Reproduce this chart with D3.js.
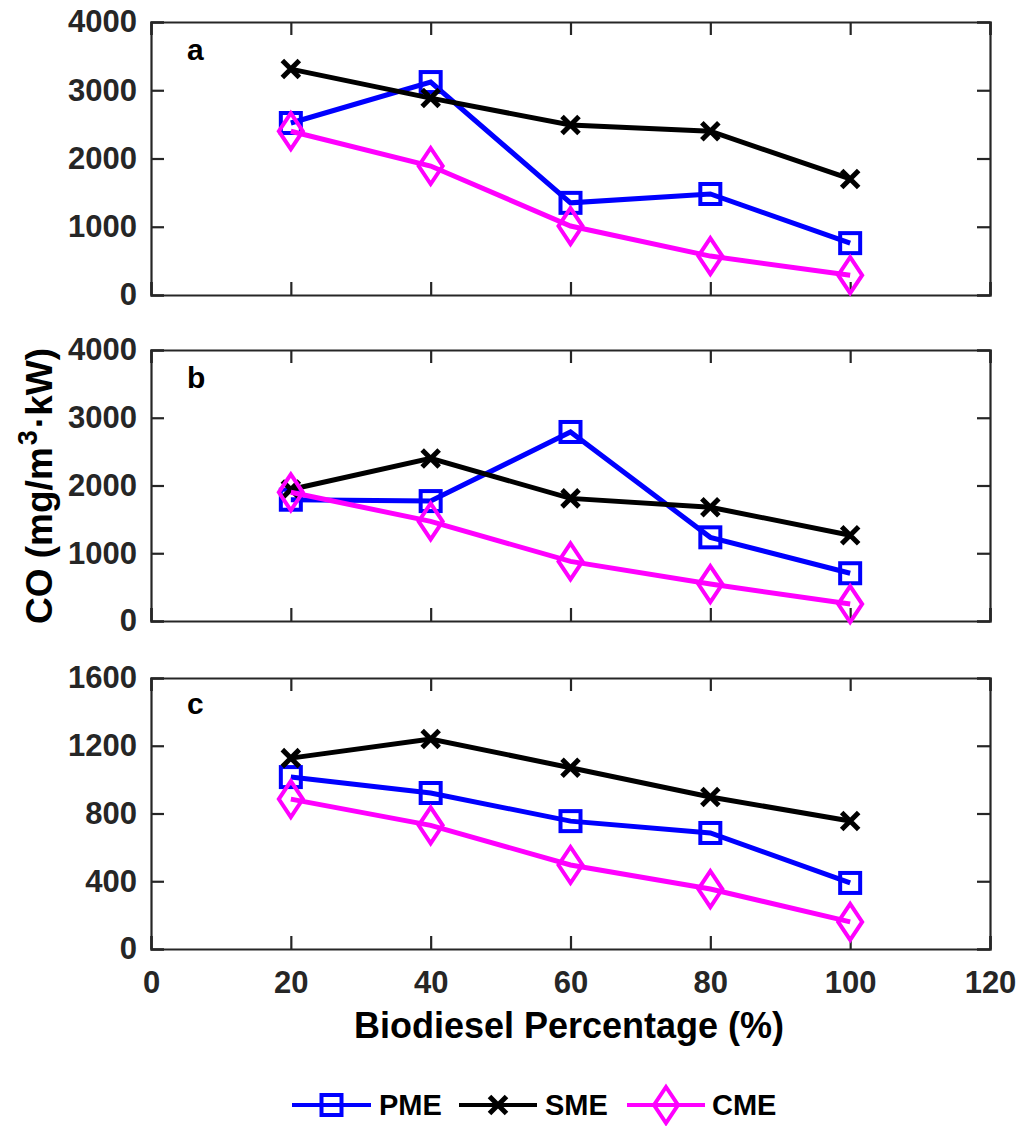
<!DOCTYPE html>
<html>
<head>
<meta charset="utf-8">
<script src="https://cdn.jsdelivr.net/npm/d3@7"></script>
<style>
  html, body { margin: 0; padding: 0; background: #fff; }
  svg text { font-family: "Liberation Sans", Arial, Helvetica, sans-serif; font-weight: bold; }
</style>
</head>
<body>
<svg id="chart" width="1022" height="1126"></svg>
<script>
// ---------- data ----------
const percentages = [20, 40, 60, 80, 100];
const xTickValues = [0, 20, 40, 60, 80, 100, 120];
const seriesNames = ["PME", "SME", "CME"];
const panelLabels = ["a", "b", "c"];

const pmeA = [2520, 3120, 1350, 1480, 760];
const smeA = [3310, 2885, 2490, 2400, 1700];
const cmeA = [2400, 1890, 1010, 570, 290];

const pmeB = [1790, 1770, 2790, 1235, 705];
const smeB = [1940, 2400, 1810, 1680, 1265];
const cmeB = [1900, 1470, 880, 545, 250];

const pmeC = [1015, 921, 755, 685, 390];
const smeC = [1127, 1240, 1070, 897, 756];
const cmeC = [885, 730, 496, 354, 160];

const yTicksAB = [0, 1000, 2000, 3000, 4000];
const yTicksC = [0, 400, 800, 1200, 1600];

const xLabel = "Biodiesel Percentage (%)";

// ---------- styles ----------
const colors = { PME: "#0000FF", SME: "#000000", CME: "#FF00FF" };
const axisColor = "#262626";

const panels = [
  { label: panelLabels[0], top: 22, bottom: 295, ticks: yTicksAB, data: [pmeA, smeA, cmeA], showX: false },
  { label: panelLabels[1], top: 350, bottom: 621, ticks: yTicksAB, data: [pmeB, smeB, cmeB], showX: false },
  { label: panelLabels[2], top: 678, bottom: 949, ticks: yTicksC, data: [pmeC, smeC, cmeC], showX: true }
];

const left = 151, right = 990;
const svg = d3.select("#chart");

const x = d3.scaleLinear().domain([0, 120]).range([left, right]);

function drawMarker(g, name, cx, cy, legend) {
  const c = colors[name];
  if (name === "PME") {
    const s = 20;
    g.append("rect").attr("x", cx - s / 2).attr("y", cy - s / 2).attr("width", s).attr("height", s)
      .attr("fill", "none").attr("stroke", c).attr("stroke-width", 4);
  } else if (name === "SME") {
    const h = 8.5;
    g.append("path").attr("d", `M${cx - h},${cy - h}L${cx + h},${cy + h}M${cx - h},${cy + h}L${cx + h},${cy - h}`)
      .attr("stroke", c).attr("stroke-width", 5).attr("fill", "none");
  } else {
    const w = 12, hh = 18;
    g.append("path").attr("d", `M${cx},${cy - hh}L${cx + w},${cy}L${cx},${cy + hh}L${cx - w},${cy}Z`)
      .attr("fill", "none").attr("stroke", c).attr("stroke-width", 4);
  }
}

panels.forEach(p => {
  const y = d3.scaleLinear().domain([p.ticks[0], p.ticks[p.ticks.length - 1]]).range([p.bottom, p.top]);
  const g = svg.append("g");
  const tickLen = 13;

  const axL = d3.axisLeft(y).tickValues(p.ticks).tickSize(-tickLen).tickPadding(14).tickFormat(d3.format("d"));
  const axR = d3.axisRight(y).tickValues(p.ticks).tickSize(-tickLen).tickFormat("");
  const axT = d3.axisTop(x).tickValues(xTickValues).tickSize(-tickLen).tickFormat("");
  const axB = d3.axisBottom(x).tickValues(xTickValues).tickSize(-tickLen).tickPadding(22).tickFormat(p.showX ? d3.format("d") : "");

  [
    [axL, `translate(${left},0)`],
    [axR, `translate(${right},0)`],
    [axT, `translate(0,${p.top})`],
    [axB, `translate(0,${p.bottom})`]
  ].forEach(([ax, tr]) => {
    const a = g.append("g").attr("transform", tr).call(ax);
    a.select(".domain").attr("stroke", axisColor).attr("stroke-width", 2.2).attr("fill", "none");
    a.selectAll(".tick line").attr("stroke", axisColor).attr("stroke-width", 2.2);
    a.selectAll(".tick text").attr("fill", axisColor).attr("font-size", 31).attr("font-weight", "bold")
      .attr("font-family", '"Liberation Sans", Arial, sans-serif');
  });

  // panel label
  g.append("text").attr("x", 187).attr("y", p.top + (p.label === "c" ? 36 : 38)).text(p.label)
    .attr("font-size", 30).attr("fill", "#000");

  // series
  const line = d3.line().x((d, i) => x(percentages[i])).y(d => y(d));
  p.data.forEach((vals, si) => {
    const name = seriesNames[si];
    g.append("path").datum(vals).attr("d", line).attr("fill", "none")
      .attr("stroke", colors[name]).attr("stroke-width", 5).attr("stroke-linejoin", "miter");
    vals.forEach((v, i) => drawMarker(g, name, x(percentages[i]), y(v), false));
  });
});

// x axis title
svg.append("text").attr("x", 569).attr("y", 1038).attr("text-anchor", "middle")
  .attr("font-size", 36).attr("fill", "#000").text(xLabel);

// y axis title
const yt = svg.append("text").attr("transform", "translate(52,486) rotate(-90)")
  .attr("text-anchor", "middle").attr("font-size", 37).attr("fill", "#000");
yt.append("tspan").text("CO (mg/m");
yt.append("tspan").attr("font-size", 27).attr("dy", -15).attr("dx", 2).text("3");
yt.append("tspan").attr("dy", 15).attr("dx", 2).text("\u00B7kW)");

// legend
const legendItems = [
  { name: "PME", x1: 292, x2: 371, tx: 379 },
  { name: "SME", x1: 459, x2: 537, tx: 545 },
  { name: "CME", x1: 627, x2: 705, tx: 712 }
];
const ly = 1105;
const lg = svg.append("g");
legendItems.forEach(it => {
  lg.append("line").attr("x1", it.x1).attr("x2", it.x2).attr("y1", ly).attr("y2", ly)
    .attr("stroke", colors[it.name]).attr("stroke-width", 4);
  drawMarker(lg, it.name, (it.x1 + it.x2) / 2, ly, true);
  lg.append("text").attr("x", it.tx).attr("y", ly + 10).attr("font-size", 29).attr("fill", "#000").text(it.name);
});
</script>
</body>
</html>
